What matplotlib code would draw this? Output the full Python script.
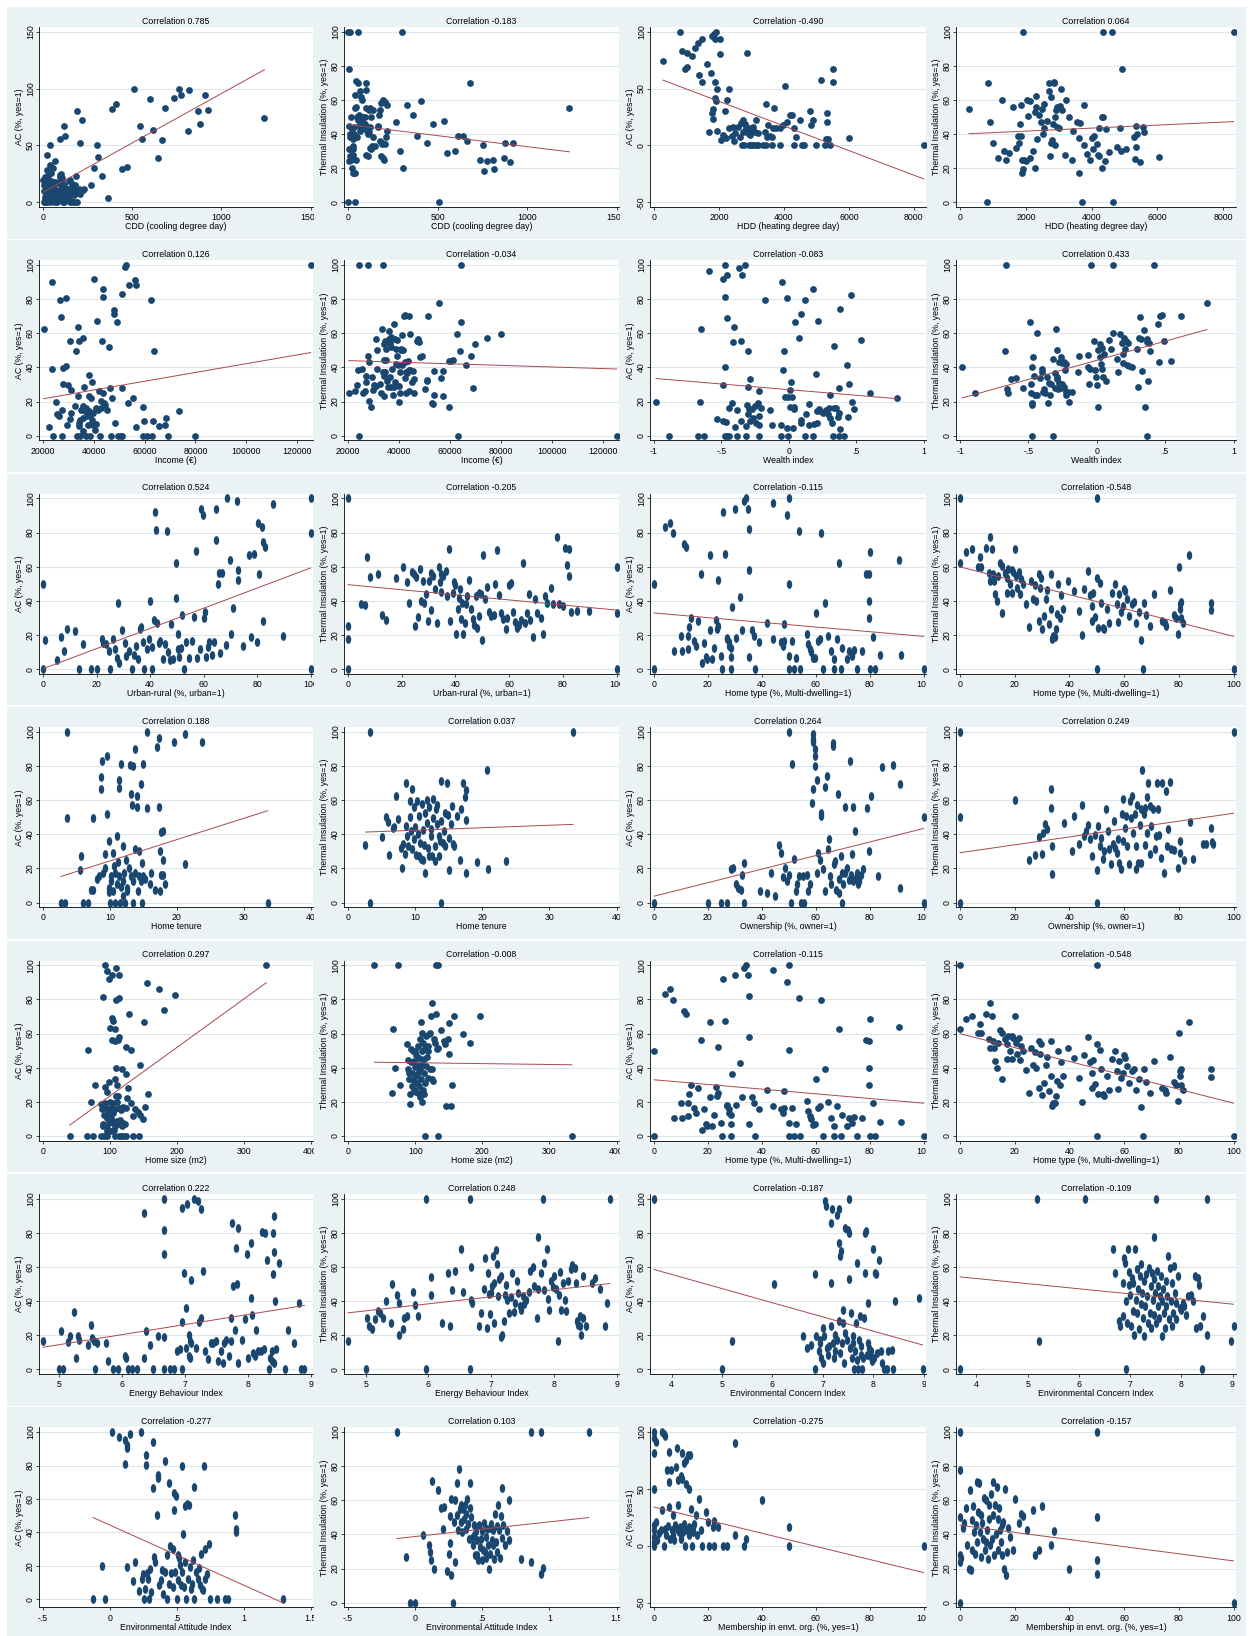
import numpy as np
import matplotlib
matplotlib.use('Agg')
import matplotlib.pyplot as plt
from matplotlib.markers import MarkerStyle
from matplotlib.transforms import Affine2D, Bbox, TransformedBbox

plt.rcParams['font.family'] = ['Liberation Sans', 'DejaVu Sans']

# ---------------- data ----------------
# each list: (x, y) per region; fits: (intercept, slope)

cdd_ac = [(1241, 74), (509, 100), (765, 100), (737, 92), (776, 94), (817, 99), (871, 80), (907, 94), (927, 81), (879, 69),
          (810, 63), (686, 83), (619, 64), (597, 91), (541, 67), (556, 56), (666, 55), (647, 39), (472, 31), (444, 29),
          (410, 86), (386, 82), (364, 4), (330, 23), (308, 40), (300, 50), (287, 30), (269, 15), (224, 11), (216, 72),
          (209, 52), (190, 80), (183, 23), (123, 58), (117, 67), (93, 56), (97, 24), (108, 20), (146, 19), (37, 50),
          (20, 42), (37, 33), (67, 36), (56, 30), (47, 26),
          (5, 0), (10, 0), (20, 0), (40, 0), (60, 0), (80, 0), (110, 0), (120, 0), (150, 0), (170, 0), (180, 0), (190, 0),
          (10, 5), (15, 7), (30, 10), (40, 15), (50, 18), (60, 12), (70, 8), (80, 5), (90, 10), (100, 12), (110, 8),
          (120, 15), (130, 10), (140, 5), (150, 20), (160, 8), (170, 12), (180, 15), (195, 8), (200, 12),
          (10, 22), (20, 28), (25, 18), (35, 20), (45, 15), (55, 10), (65, 5), (75, 3), (85, 17), (95, 22), (105, 15),
          (115, 6), (125, 9), (135, 12), (145, 3), (160, 16), (175, 6), (185, 9), (210, 7), (230, 12),
          (0, 20), (5, 15), (8, 10), (12, 2), (18, 12), (22, 16), (28, 24), (33, 5), (38, 8), (43, 19), (48, 3), (52, 6),
          (58, 14), (68, 18), (72, 11), (78, 2), (88, 7), (98, 4), (102, 25), (108, 21), (118, 10), (128, 3), (148, 12), (155, 1)]
cdd_ac_fit = (8.8, 0.0868)

cdd_ti = [(0, 100), (10, 100), (56, 100), (301, 100), (4, 78), (46, 71), (56, 70), (100, 70), (100, 66), (65, 65), (74, 62),
          (78, 60), (37, 63), (197, 60), (205, 59), (186, 58), (216, 57), (328, 57), (409, 59.6), (364, 51), (268, 47),
          (472, 46), (537, 47.5), (383, 39), (442, 35), (290, 30), (307, 20), (510, 0), (553, 29), (595, 30), (617, 38.6),
          (643, 39), (665, 36), (684, 70), (736, 25), (755, 33.5), (762, 18.6), (775, 24), (809, 25), (816, 19.6),
          (870, 26), (877, 35), (903, 23.5), (924, 34.5), (1236, 55),
          (5, 45), (10, 38), (12, 40), (15, 25), (8, 31), (20, 26), (25, 33), (30, 28), (18, 50), (22, 43), (28, 37),
          (35, 44), (40, 55), (45, 56), (50, 50), (55, 48), (60, 45), (65, 42), (70, 50), (75, 43), (80, 47), (85, 50),
          (90, 44), (95, 46), (100, 55), (105, 42), (110, 40), (115, 54), (120, 44), (125, 55), (130, 50), (135, 33),
          (140, 38), (150, 33), (165, 44), (175, 51), (180, 36), (185, 27), (190, 35), (195, 26), (200, 25), (210, 38),
          (220, 42), (5, 24), (10, 27), (15, 31), (20, 20), (25, 17), (35, 17), (40, 17), (30, 31), (45, 25), (50, 38),
          (100, 28), (110, 27), (120, 32), (130, 31), (170, 45), (205, 34), (0, 0), (40, 0), (35, 40), (60, 51),
          (95, 50), (115, 41), (140, 54), (180, 54), (190, 34)]
cdd_ti_fit = (45.5, -0.01287)

hdd_ac = [(278, 74.4), (814, 100), (856, 83), (938, 67), (1010, 69), (1000, 81), (1165, 79), (1268, 86), (1340, 90),
          (1485, 94), (1381, 62), (1485, 56), (1619, 72), (1753, 64), (1794, 96.5), (1856, 98), (1918, 100), (1866, 94),
          (2031, 94), (2041, 80), (1866, 56), (1876, 42), (1907, 39), (1938, 50), (2299, 50), (2258, 40), (2186, 30),
          (1784, 28.5), (1825, 32), (1825, 23.5), (1701, 11.5), (1938, 12.6), (2866, 81.5), (4041, 52), (3454, 36),
          (3701, 33), (5144, 57.6), (5515, 67), (5495, 56), (4794, 30.6), (4887, 22), (4825, 17.6), (5320, 28.2),
          (5330, 20.3), (5990, 6.8), (8299, 0), (4485, 22.4), (4175, 26.8), (4237, 26.7), (4082, 20.6), (3969, 17.9),
          (3660, 15), (3505, 18), (4381, 7.6), (4309, 15), (5289, 5.3), (5361, 5.3),
          (2711, 0), (2763, 0), (2918, 0), (2990, 0), (3041, 0), (3124, 0), (3196, 0), (3351, 0), (3454, 0), (3639, 0),
          (3887, 0), (4299, 0), (4557, 0), (4608, 0), (4979, 0), (5258, 0), (5433, 0),
          (2062, 4.7), (2144, 7.6), (2216, 6.2), (2392, 8.2), (2474, 3.5), (2505, 11), (2577, 16), (2649, 7.6),
          (2732, 12), (2753, 22), (2814, 18.5), (2835, 15), (2887, 10.6), (2938, 15.6), (2969, 9), (3021, 13.5),
          (3062, 16.5), (3144, 22), (3196, 10.6), (3113, 12), (3402, 12), (3474, 7), (3557, 8.2), (3619, 7.6),
          (3763, 15), (3866, 15), (2299, 15), (2423, 16.5), (2680, 19.4), (2113, 9)]
hdd_ac_fit = (60.4, -0.01082)

hdd_ti = [(269, 54.7), (838, 70), (807, 0), (921, 47), (993, 35), (1148, 26), (1272, 60), (1344, 30), (1396, 25),
          (1479, 29), (1603, 56), (1706, 31.6), (1748, 39), (1789, 35), (1820, 46), (1841, 57), (1851, 38.6), (1872, 25),
          (1872, 17), (1903, 19.4), (1923, 100), (1955, 25), (2017, 24), (2048, 60), (2068, 50.8), (2120, 59.6),
          (2130, 26), (2213, 30), (2275, 20), (2296, 56), (2275, 53), (2306, 62.5), (2337, 37), (2389, 51.4), (2471, 47),
          (2502, 54.6), (2523, 40), (2544, 43.3), (2564, 57.6), (2637, 47.6), (2689, 65.5), (2709, 70), (2751, 61.7),
          (2761, 34.5), (2740, 27.4), (2782, 36.7), (2813, 46), (2844, 70), (2865, 70.8), (2875, 33.3), (2885, 50.2),
          (2906, 54), (2937, 44.3), (2958, 55.7), (2999, 43.7), (3040, 56.5), (3092, 54), (3071, 66.7), (3206, 60),
          (3175, 28), (3309, 50.2), (3444, 41.8), (3402, 25), (3567, 46.9), (3651, 46.3), (3630, 37.6), (3609, 16.9),
          (3692, 0), (3754, 33.3), (3775, 57), (3857, 28.4), (3950, 25), (4002, 37.8), (4043, 31.4), (4085, 38.6),
          (4167, 34), (4188, 28), (4209, 26.9), (4219, 43.3), (4312, 50.2), (4343, 50.2), (4322, 20.2), (4415, 24),
          (4436, 42.7), (4353, 100), (4622, 100), (4643, 0), (4529, 29.4), (4777, 32.5), (4850, 43.3), (4891, 30),
          (4932, 78), (5036, 31.2), (5295, 38.2), (5346, 32.5), (5356, 44.7), (5377, 40.2), (5315, 25.3), (5481, 23.4),
          (5553, 44), (5594, 41), (6049, 26.7), (8314, 100)]
hdd_ti_fit = (39.96, 0.000882)

income_ac_k = [(20.3, 62.4), (22.4, 5), (23.4, 90), (23.7, 39), (24.1, 0), (25, 20), (25.5, 12.7), (26.3, 11.7),
               (26.6, 79.6), (27, 69.3), (27.4, 0), (27.6, 15.3), (27.9, 30.3), (27.9, 39.7), (28.9, 41.1), (28.9, 80.8),
               (29.5, 6.5), (29.8, 29.9), (30.6, 9.8), (30.9, 13.3), (31, 27), (30.8, 55.8), (32.7, 17.6), (33.1, 49.9),
               (33.2, 0), (33.8, 23.1), (33.8, 63.6), (34.2, 55.4), (34, 5.5), (34.2, 7.4), (34.5, 9.4), (34.7, 0),
               (34.9, 15.3), (35.6, 57.3), (35.6, 10.4), (35.8, 17.2), (35.8, 2.5), (36.3, 28.6), (36.6, 14.3), (36.8, 0),
               (37.1, 16.2), (37.4, 11.4), (37.8, 6.5), (38.1, 35.8), (38.1, 23.1), (38.3, 14.3), (38.5, 0), (38.7, 12.3),
               (39, 22.1), (39.4, 31.3), (39.4, 9.4), (39.6, 13.3), (40, 91.6), (39.8, 6.5), (40.4, 3.5), (40.7, 16.2),
               (40.9, 7), (41.3, 67.1), (41.7, 15.3), (41.9, 26), (42.3, 0), (42.7, 16.2), (42.8, 20.5), (43.2, 55.8),
               (43.6, 25), (43.8, 85.8), (43.8, 81.3), (44.2, 19.2), (44.5, 18.2), (45.4, 15.3), (45.8, 52.1), (46.2, 27.8),
               (46.6, 0), (47.1, 22.1), (47.8, 71.4), (48, 73.6), (48.4, 7.4), (49.2, 66.7), (49.5, 0), (50.8, 0),
               (51.1, 28), (51.3, 0), (51.1, 82.8), (52.4, 98.8), (52.8, 100), (53.5, 19.2), (53.7, 88.5), (55.6, 22.1),
               (56.3, 91), (56.7, 88.6), (56.8, 4.9), (59.2, 16.8), (59.2, 0), (59.7, 8.4), (60.9, 0), (62.5, 79.8),
               (62.9, 0), (63.5, 8.4), (63.8, 49.9), (65.7, 5.9), (68.1, 6.5), (68.3, 10.4), (69.1, 0), (73.6, 14.3),
               (80, 0), (125.4, 100)]
income_ac_fit = (16.5, 0.000257)

income_ti_k = [(20.3, 25), (22.6, 26.4), (23.7, 30), (24, 38.7), (24.2, 100), (24.5, 0), (25.5, 39), (25.8, 25),
               (26.8, 26), (27.1, 31.5), (27.2, 35.2), (27.7, 100), (27.9, 47), (28.1, 43), (28.1, 20.2), (29.1, 16.8),
               (29.4, 34.2), (29.7, 26.6), (30.1, 30), (30.8, 29), (31, 56.8), (31.2, 50), (31.4, 39), (32.4, 30.3),
               (33.1, 25), (33.3, 62.6), (33.6, 100), (34, 23.1), (33.9, 37.3), (34, 44.2), (34.1, 34.8), (34.2, 53.8),
               (34.6, 55.4), (34.7, 37.3), (35, 44.2), (35, 50.9), (35.4, 31.9), (35.6, 54.8), (35.6, 28.4), (35.9, 56.8),
               (36.2, 61.6), (36.4, 54.4), (36.6, 34.2), (36.7, 51.9), (36.8, 57.9), (37, 28.4), (37.3, 39.1), (37.6, 24),
               (37.9, 28.4), (38, 65.6), (38.4, 31.3), (38.5, 56.8), (38.7, 42.3), (38.9, 50.9), (39.2, 56.1), (39.3, 46.6),
               (39.6, 41.7), (39.9, 29.3), (40, 19.6), (40.3, 37.1), (40.3, 25), (40.7, 50.9), (40.9, 50.5), (41.2, 59.3),
               (41.3, 41.7), (41.5, 50.5), (41.8, 70), (42.2, 33.9), (42.5, 70.6), (42.5, 43.2), (42.7, 37.3), (42.7, 25),
               (43.1, 36.8), (43.4, 43.6), (43.8, 26.4), (43.9, 70), (44, 38.4), (44.2, 59.7), (44.4, 38.4), (45.3, 31.3),
               (45.4, 37.8), (45.8, 33.5), (46.1, 25), (47, 55.4), (47.4, 56.4), (47.9, 54.8), (48.3, 46), (49, 47),
               (50.3, 27.4), (51, 31.9), (51.2, 32.9), (51.4, 70), (53, 19.2), (53.3, 18.6), (53.7, 38.2), (53.9, 24.1),
               (55.7, 77.9), (56.7, 33.9), (57.3, 38.2), (57.3, 23.5), (59.6, 43.6), (59.8, 16.8), (60.3, 43.6),
               (61.3, 44.6), (62.9, 59.9), (63.2, 0), (63.8, 49.9), (64.2, 100), (64.2, 66.5), (66.2, 41.7), (68.5, 46.6),
               (68.9, 28), (69.8, 53.8), (74.4, 57.1), (80.1, 59.9), (125.5, 0)]
income_ti_fit = (44.95, -0.0000466)

wealth_ac = [(-0.985, 20), (-0.888, 0), (-0.673, 0), (-0.658, 20), (-0.652, 62.4), (-0.630, 0), (-0.591, 96.5),
             (-0.536, 10), (-0.491, 8.4), (-0.485, 91.6), (-0.476, 100), (-0.473, 81.2), (-0.485, 30), (-0.473, 40),
             (-0.467, 7.8), (-0.470, 0), (-0.461, 94.1), (-0.461, 69.1), (-0.455, 0), (-0.442, 0), (-0.445, 16),
             (-0.421, 19.4), (-0.406, 63.6), (-0.412, 55.2), (-0.4, 5.3), (-0.388, 0), (-0.382, 15.1), (-0.370, 98.4),
             (-0.355, 8.4), (-0.355, 55.8), (-0.345, 94.1), (-0.324, 100), (-0.321, 5.5), (-0.321, 0), (-0.303, 49.9),
             (-0.303, 28.6), (-0.309, 18), (-0.303, 12.5), (-0.294, 15.5), (-0.291, 33.1), (-0.285, 8.6), (-0.276, 15.9),
             (-0.264, 10.6), (-0.248, 17.4), (-0.242, 7.2), (-0.227, 19), (-0.224, 26.2), (-0.218, 11.7), (-0.224, 6.5),
             (-0.218, 0), (-0.206, 16), (-0.176, 79.6), (-0.136, 15.1), (-0.127, 6.5), (-0.061, 6.1), (-0.061, 0),
             (-0.048, 89.8), (-0.045, 38.7), (-0.039, 49.9), (-0.030, 22.5), (-0.012, 80.6), (-0.012, 4.7), (-0.006, 22.5),
             (-0.003, 0), (0.006, 27), (0.006, 16.8), (0.015, 31.5), (0.024, 22.9), (0.030, 4.3), (0.039, 16.8),
             (0.042, 15.5), (0.048, 66.7), (0.073, 57.5), (0.091, 7.2), (0.094, 9), (0.094, 71.6), (0.118, 79.8),
             (0.121, 0), (0.127, 12.7), (0.152, 18.6), (0.152, 6.5), (0.176, 85.9), (0.179, 0), (0.188, 6.7), (0.200, 36),
             (0.206, 14.7), (0.212, 7.4), (0.218, 67.3), (0.224, 15.9), (0.233, 14.7), (0.255, 13.3), (0.273, 14.9),
             (0.288, 12.7), (0.297, 16), (0.303, 10.6), (0.309, 23.7), (0.321, 7.4), (0.327, 0), (0.333, 52.4),
             (0.333, 16), (0.352, 16), (0.364, 10.8), (0.370, 13.1), (0.379, 74.2), (0.376, 28), (0.382, 3.7), (0.373, 0),
             (0.412, 0), (0.433, 41.7), (0.445, 30.3), (0.442, 10.8), (0.458, 82.6), (0.470, 19.6), (0.485, 15.5),
             (0.536, 56), (0.606, 24.9), (0.803, 22.3)]
wealth_ac_fit = (27.0, -6.6)

wealth_ti = [(-0.985, 40), (-0.888, 25), (-0.667, 100), (-0.673, 49.9), (-0.658, 27.2), (-0.652, 24.9), (-0.627, 33.3),
             (-0.591, 33.7), (-0.537, 28), (-0.491, 66.7), (-0.485, 30.1), (-0.479, 25.2), (-0.476, 40), (-0.473, 19.4),
             (-0.473, 18.2), (-0.476, 0), (-0.464, 46.2), (-0.461, 35), (-0.449, 23.9), (-0.440, 60.1), (-0.440, 23.9),
             (-0.416, 33.7), (-0.404, 39), (-0.401, 37.4), (-0.394, 25.8), (-0.388, 27.2), (-0.379, 24.9), (-0.364, 34.4),
             (-0.358, 19.4), (-0.349, 31.1), (-0.340, 24.1), (-0.334, 30.1), (-0.318, 0), (-0.318, 45.2), (-0.309, 27.8),
             (-0.303, 36.6), (-0.297, 62.4), (-0.288, 50.1), (-0.294, 34.2), (-0.288, 33.1), (-0.282, 27.2),
             (-0.279, 43.2), (-0.273, 31.1), (-0.264, 28.2), (-0.261, 46.4), (-0.258, 42.5), (-0.252, 30.1),
             (-0.243, 43.2), (-0.237, 28.6), (-0.234, 38.4), (-0.228, 25.6), (-0.222, 23.7), (-0.222, 41.9),
             (-0.213, 25.8), (-0.207, 20), (-0.182, 25.8), (-0.137, 37.4), (-0.131, 46.8), (-0.067, 40), (-0.061, 47.2),
             (-0.055, 30.1), (-0.052, 39), (-0.039, 100), (-0.024, 55.6), (-0.015, 38.4), (-0.006, 34.6), (0, 30),
             (0.009, 16.8), (0.009, 50.3), (0.021, 46.4), (0.024, 54), (0.030, 42.3), (0.039, 51.2), (0.039, 39),
             (0.045, 34.4), (0.052, 47.6), (0.070, 32.1), (0.091, 56.2), (0.106, 50.7), (0.115, 100), (0.121, 60.1),
             (0.145, 44.8), (0.152, 37.4), (0.172, 59.5), (0.182, 54.2), (0.188, 42.5), (0.191, 47.6), (0.2, 57.5),
             (0.206, 50.7), (0.212, 55.6), (0.218, 41.5), (0.227, 54.6), (0.236, 40.9), (0.258, 40), (0.297, 50.7),
             (0.303, 28.8), (0.312, 57.5), (0.318, 69.3), (0.324, 56.6), (0.333, 38), (0.342, 61.8), (0.351, 16.8),
             (0.364, 56.6), (0.370, 55.2), (0.373, 32.1), (0.364, 0), (0.379, 54.6), (0.388, 49.7), (0.418, 100),
             (0.451, 65.6), (0.457, 43.2), (0.464, 69.9), (0.479, 70.6), (0.488, 55.6), (0.539, 44), (0.615, 70.3),
             (0.803, 77.7)]
wealth_ti_fit = (44.2, 22.4)

urban_ac = [(0, 50), (0.9, 16.8), (0, 0), (5.3, 5.1), (6.8, 19), (7.7, 10.6), (8.9, 23.3), (11.8, 22.5), (13.3, 0),
            (14.8, 14.5), (17.8, 0), (20.1, 0), (21.9, 17.4), (22.5, 15.5), (23.7, 14.5), (24.6, 10.6), (25.1, 0),
            (26, 17.4), (26.9, 11.5), (27.5, 6.7), (28.1, 39), (28.4, 3.7), (29.6, 22.7), (30.5, 15.5), (31.1, 7.6),
            (32, 10.6), (33.4, 0), (34, 8), (34.9, 13.5), (35.5, 5.7), (36.1, 23.3), (36.7, 24.5), (37.3, 15.9),
            (37.9, 0), (38.8, 11.5), (39.6, 17.4), (40, 40), (40.8, 12.9), (40.8, 0), (41.4, 28.8), (41.7, 91.8),
            (42.3, 81.6), (42.6, 27.2), (43.2, 15.5), (43.8, 16.4), (44.7, 6.1), (45.6, 14.5), (46.4, 80.8), (46.7, 10.2),
            (47.3, 5.1), (47.9, 26.2), (48.5, 5.7), (49.7, 62.4), (49.7, 41.9), (50.3, 20.4), (50.3, 11.9), (50.9, 7.2),
            (51.5, 12.5), (52.1, 31.5), (52.7, 0), (53.3, 15.9), (54.4, 6.5), (55.6, 16.4), (56.5, 30.7), (57.1, 69.5),
            (57.7, 6.7), (58.6, 11.9), (59.2, 94.1), (59.8, 90.2), (60.1, 30.1), (60.4, 33.5), (60.9, 7), (61.5, 12.9),
            (62.1, 15.9), (63, 8), (63.9, 15.7), (64.5, 75.7), (64.5, 93.9), (65.4, 50.1), (65.7, 56.2), (66.3, 9.6),
            (66.9, 56.2), (68.3, 13.9), (68.9, 100), (69.8, 63.8), (70.4, 20.4), (71, 36), (72.5, 98.6), (72.8, 57.9),
            (72.8, 52.3), (74.9, 13.5), (76.9, 66.9), (77.8, 18.8), (79, 67.3), (79.9, 16), (80.2, 85.9), (80.8, 55.6),
            (81.7, 83.4), (82.2, 28.2), (82.2, 74.4), (83.1, 71.8), (85.8, 96.7), (89.6, 19.6), (100, 100), (100, 79.8),
            (100, 0)]
urban_ac_fit = (0.2, 0.591)

urban_ti = [(0, 100), (0, 25.2), (0, 17.4), (0, 0), (4.8, 38.4), (6.3, 37.8), (7.1, 65.6), (8, 54), (11.3, 55.6),
            (12.5, 31.7), (14.3, 28.8), (17.9, 53.4), (20.5, 60.1), (22, 51), (22.6, 39), (23.8, 57.1), (24.7, 55.6),
            (25, 25.2), (25.3, 54.2), (26.2, 30.7), (26.8, 58.5), (27.1, 40), (28, 51.7), (28.3, 39), (28.9, 43.8),
            (29.8, 28.2), (30.1, 51.7), (31, 56.2), (31, 34.6), (31.5, 54.6), (32.4, 46.8), (33.3, 27.2), (33.9, 59.7),
            (34.2, 51), (34.5, 55.6), (34.8, 45.2), (35.4, 54.6), (36.3, 57.5), (36.9, 42.9), (37.5, 70.3), (38.1, 28.2),
            (39, 44.8), (39.3, 51), (39.9, 49.5), (40.2, 20.4), (40.8, 35), (41.4, 41.9), (41.7, 46.8), (42, 29.2),
            (42.3, 39), (42.9, 20.4), (43.5, 27.2), (44, 38), (44.3, 42.9), (45.2, 52.3), (45.8, 35), (46.4, 29.2),
            (47, 25.6), (47.6, 42.9), (48.2, 24.3), (48.8, 31.1), (48.8, 44.4), (49.4, 43.8), (49.7, 16.8), (50.3, 66.7),
            (50.9, 40.9), (51.8, 48.3), (52.4, 33.5), (53.3, 31.1), (54.2, 31.5), (54.8, 49.7), (55.4, 69.9),
            (56.3, 43.4), (56.9, 32.7), (57.8, 29.2), (58.7, 23.3), (59.3, 30.1), (60.1, 49.5), (60.7, 50.3),
            (61.3, 33.7), (62.2, 27.8), (63.1, 24.3), (63.7, 25.6), (64.3, 28.8), (65.2, 62.4), (65.8, 27.2),
            (66.7, 33.1), (67.3, 43.8), (67.9, 28.8), (68.8, 19), (69.6, 40.9), (70.5, 32.7), (71.7, 30.1), (72.6, 20.4),
            (73.2, 42.9), (74.1, 39), (75.6, 47.4), (76.5, 38.4), (77.7, 77.7), (78.6, 38), (80.1, 37), (80.7, 71),
            (81.5, 61.1), (82.1, 70.3), (82.4, 54.6), (83, 33.5), (85.1, 34), (89.6, 34), (100, 60.1), (100, 33.1),
            (100, 0)]
urban_ti_fit = (49.5, -0.149)

hometype_ac = [(0, 50), (0, 0), (4.2, 83), (6, 85.9), (6.9, 79.6), (7.5, 10.6), (9.9, 19.4), (10.4, 10.6), (11.3, 73.2),
               (11.9, 71.4), (12.5, 11.5), (12.5, 19.4), (13.1, 24.7), (13.7, 30.1), (14.9, 16.4), (15.5, 13.5),
               (16.4, 28.2), (17.3, 56), (17.9, 3.7), (18.5, 15.5), (19.1, 7), (19.7, 6.1), (20.6, 66.9), (20.9, 22.7),
               (21.5, 6.1), (22.1, 12.3), (23, 28.6), (23.3, 23.3), (23.9, 52.3), (23.9, 25.2), (24.8, 7.6), (25.1, 0),
               (25.7, 91.8), (26.3, 67.3), (26.9, 18.4), (27.2, 17.4), (27.8, 13.5), (27.8, 15.9), (28.4, 12.1),
               (28.4, 7.2), (28.7, 0), (29, 36.2), (29.9, 94.1), (30.4, 18.4), (31.9, 42.5), (32.8, 22.9), (33.4, 98.6),
               (34, 100), (34.9, 94.1), (35.2, 82), (35.2, 57.9), (35.2, 7.2), (36.4, 22.7), (37, 19.4), (37.3, 0),
               (38.8, 15.7), (41.8, 27.2), (44.2, 97.1), (44.2, 17.4), (47.2, 15.7), (47.8, 13.5), (48.1, 26.2),
               (48.4, 16.4), (49.3, 90.2), (49.9, 100), (49.9, 50.1), (50.1, 7.6), (50.1, 0), (51.3, 16.4), (51.9, 0),
               (52.8, 6.7), (53.7, 80.8), (54.3, 0), (56.7, 20.4), (57.3, 14.5), (57.9, 11.5), (58.2, 10.2), (59.1, 6.3),
               (59.7, 6.7), (60, 33.1), (60.9, 16.4), (61.5, 17.4), (61.8, 79.6), (62.7, 0), (63.6, 39), (64.5, 19.6),
               (65.7, 10.6), (66.6, 5.7), (66.9, 0), (67.8, 17.4), (68.7, 62.4), (69.3, 0), (69.9, 12.5), (71.6, 5.7),
               (72.5, 10.6), (73.4, 7.6), (74.3, 11), (75.2, 0), (77, 10.6), (78.8, 56), (79.7, 55.6), (79.7, 40),
               (79.7, 30.1), (80, 68.7), (80.3, 0), (81.2, 19), (82.1, 0), (83.9, 8), (91.6, 8), (91, 63.8), (100, 0)]
hometype_ac_fit = (32.9, -0.137)

hometype_ti = [(0, 100), (0, 62.4), (2.1, 68.7), (4.5, 70.3), (6.6, 60.1), (7.2, 65.8), (7.5, 60.1), (9.6, 71.2),
               (10.4, 56.6), (11, 77.7), (11, 51.7), (11.6, 70.3), (11.9, 55.6), (12.5, 51.7), (12.8, 43.8), (13.4, 40),
               (14, 54.6), (14.6, 62), (15.2, 60.5), (15.5, 33.1), (16.4, 56.6), (17, 53.6), (17.3, 44.8), (17.6, 58.7),
               (18.2, 49.7), (18.8, 58.3), (19.1, 44.8), (19.4, 57.1), (20, 70.3), (20.6, 54.6), (20.9, 47.8),
               (21.5, 57.1), (21.8, 44.2), (22.4, 52.7), (23, 49.7), (24.2, 38.4), (25.1, 24.9), (26, 51.7), (26.6, 41.3),
               (27.5, 49.1), (27.8, 40), (28.7, 28.2), (29, 55.6), (29.3, 47.8), (29.6, 53.6), (30.1, 23.7), (30.7, 31.1),
               (31.3, 41.3), (31.9, 46.4), (32.5, 26.2), (33.1, 35), (33.4, 55.6), (33.7, 17.4), (34, 19.4), (34.6, 19),
               (34.9, 23.3), (35.5, 32.1), (35.8, 49.7), (36.4, 30.1), (37, 43.2), (37.6, 35.4), (39.4, 51.7),
               (41.5, 45.8), (43.3, 34), (44.5, 19.8), (45.4, 47.2), (46.9, 57.7), (47.5, 43.2), (48.1, 37), (48.4, 28.2),
               (48.7, 44.4), (49.3, 30.5), (49.9, 53.6), (49.9, 100), (49.9, 0), (50.4, 24.3), (51, 50.3), (51.6, 39),
               (52.2, 24.3), (52.8, 23.3), (53.7, 35), (54.6, 27.2), (55.5, 44.8), (56.7, 49.7), (57.3, 38), (57.9, 27.6),
               (58.2, 43.8), (58.8, 33.7), (59.4, 37), (60, 47.2), (60.3, 45.8), (61.2, 40.9), (61.8, 31.1), (62.7, 38),
               (63.6, 39.3), (64.5, 27.2), (65.4, 33.5), (66.3, 16.8), (66.9, 0), (67.2, 39), (68.1, 31.5), (69.3, 25.2),
               (71, 43.8), (74, 28.2), (74.9, 26.8), (75.2, 25.2), (76.7, 46.4), (78.2, 31.5), (79.1, 30.1), (79.7, 20.4),
               (80, 60.1), (80.3, 35), (80.6, 38), (80.9, 39.3), (80.9, 30.1), (81.5, 27.2), (83.6, 66.7), (91.6, 39),
               (91.9, 34.6), (100, 0)]
hometype_ti_fit = (59.9, -0.407)

tenure_ac = [(2.7, 0), (3.3, 0), (3.6, 100), (3.6, 49.7), (5.5, 19), (5.7, 27.2), (6, 0), (6.7, 0), (7.1, 7.2), (7.5, 7.6),
             (7.5, 49.7), (8.1, 13.9), (8.3, 15.5), (8.7, 73.8), (8.7, 66.7), (8.8, 83), (9, 17.4), (9.3, 20.4),
             (9.5, 85.9), (9.3, 28.2), (9.6, 51.7), (9.8, 36), (9.8, 8.6), (9.9, 6.1), (10, 0), (10.1, 15.5), (10.2, 12.5),
             (10.5, 6.7), (10.5, 28.8), (10.6, 21.3), (10.7, 17.4), (10.7, 0), (11, 10.6), (11.1, 39), (11.2, 23.7),
             (11.3, 71.6), (11.4, 67.1), (11.4, 15.5), (11.5, 0), (11.7, 9.2), (11.7, 81), (11.9, 12.5), (11.9, 4.1),
             (12, 33.1), (12.1, 17.4), (12.3, 0), (12.4, 25.2), (12.5, 8.6), (12.6, 6.7), (12.9, 20.4), (13, 80.4),
             (13.1, 15.5), (13.2, 63.8), (13.3, 56.9), (13.5, 12.5), (13.5, 80), (13.5, 0), (13.7, 17.4), (13.8, 89.8),
             (13.8, 31.5), (14, 62.4), (14.1, 56.2), (14.2, 6.7), (14.3, 15.5), (14.4, 30.1), (14.6, 69.3), (14.6, 12.5),
             (14.8, 23.3), (14.9, 81.4), (14.8, 0), (15, 15.5), (15.2, 13.5), (15.5, 100), (15.6, 55.6), (16, 10.6),
             (16.2, 17.4), (16.7, 7.6), (17.1, 91.4), (17.3, 96.7), (17.4, 56.2), (17.5, 30.1), (17.5, 6.7), (17.6, 16.4),
             (17.6, 41.1), (17.9, 42), (17.9, 24.9), (18, 15.9), (18.2, 10.6), (19.6, 94.1), (21.2, 22.5), (21.3, 98.6),
             (23.7, 94.1), (33.6, 0)]
tenure_ac_fit = (11.94, 1.246)

tenure_ti = [(2.6, 33.7), (3.2, 100), (3.2, 0), (5, 38.4), (5.7, 50.1), (6, 47.2), (6.1, 27.6), (6.7, 43.8), (6.9, 44.4),
             (7.1, 62.4), (7.5, 49.1), (7.9, 32.1), (8.1, 20), (8.2, 34.4), (8.5, 28.2), (8.6, 69.9), (8.7, 44.8),
             (8.8, 39), (8.9, 33.1), (9.2, 50.3), (9.3, 59.5), (9.4, 41.9), (9.5, 66.7), (9.6, 31.5), (9.8, 56),
             (9.9, 37.4), (10, 44.2), (10.1, 27.6), (10.2, 59.5), (10.4, 40), (10.5, 27.2), (10.6, 50.7), (10.7, 34.6),
             (10.8, 25.6), (11, 57.5), (11.1, 42.5), (11.2, 25.2), (11.3, 33.7), (11.4, 52.3), (11.5, 17.4), (11.7, 46.8),
             (11.8, 59.9), (11.9, 32.1), (12, 27.2), (12.1, 56.2), (12.3, 43.2), (12.4, 39), (12.5, 27.2), (12.6, 60.9),
             (12.7, 49.7), (12.9, 33.1), (13, 24.3), (13.1, 54.6), (13.2, 45.8), (13.3, 57.1), (13.5, 39), (13.6, 27.2),
             (13.7, 36), (13.8, 0), (13.9, 48), (13.9, 71.2), (14.2, 35), (14.3, 41.9), (14.4, 52.7), (14.5, 33.1),
             (14.8, 70.3), (14.9, 51), (15, 38), (15.1, 19), (15.4, 45.8), (15.5, 56.6), (15.6, 34.2), (15.8, 33.1),
             (16.2, 50.7), (16.7, 25.2), (16.9, 55), (17.1, 70.3), (17.4, 62), (17.5, 65.9), (17.5, 17.4), (17.6, 48.6),
             (19.2, 23.7), (20.7, 77.7), (20.9, 19.4), (23.6, 24.1), (33.5, 100)]
tenure_ti_fit = (40.9, 0.146)

owner_ac = [(0, 0), (20, 0), (24.8, 0), (26.9, 0), (28.4, 19.4), (29.3, 20), (30.4, 10.6), (31.3, 8.6), (32.2, 7.6),
            (32.8, 16.4), (33.4, 0), (33.4, 22.9), (39.4, 6.7), (41.8, 5.7), (43.3, 17.4), (44.8, 3.7), (46.3, 33.5),
            (47.2, 28.8), (47.8, 14.9), (48.7, 20.4), (49.3, 12.5), (49.9, 100), (50.1, 15.9), (50.7, 0), (51.3, 81.4),
            (51.9, 25.6), (52.5, 6.7), (53.1, 10.6), (53.7, 15.7), (54.6, 0), (55.2, 15.5), (55.8, 0), (56.7, 15.9),
            (57.3, 6.7), (57.9, 10.6), (58.5, 58.5), (58.8, 66.3), (59.1, 98.6), (59.1, 95.7), (59.1, 94.1), (59.7, 89.8),
            (59.7, 85.9), (59.7, 80), (60.3, 71.8), (60.3, 17.4), (60.9, 29.2), (61.5, 25.2), (62.1, 52.7), (62.1, 50.7),
            (62.7, 19.4), (63.3, 6.7), (63.6, 67.5), (64.2, 74.2), (64.5, 31.1), (64.8, 37), (65.1, 15.5), (65.7, 10.6),
            (66.3, 93.7), (66.3, 91.8), (66.6, 22.3), (67.2, 24.3), (67.5, 7.6), (68.1, 63.8), (68.7, 13.5), (68.7, 5.7),
            (69.3, 27.2), (69.6, 17.4), (69.9, 0), (70.1, 10.6), (70.7, 17.4), (71, 56.2), (71.6, 20.4), (72.2, 13.1),
            (72.8, 83), (73.1, 16.4), (73.4, 28.2), (73.7, 56.2), (74, 12.5), (74.6, 41.9), (74.9, 14.5), (75.2, 17.4),
            (75.8, 10.6), (76.1, 12.5), (76.7, 15.9), (77.6, 19.4), (79.1, 55.6), (79.7, 30.1), (80.6, 62.4), (83, 15.5),
            (84.5, 79.6), (88.7, 80.6), (91.3, 69.3), (91.3, 8.6), (100, 50.1), (100, 0)]
owner_ac_fit = (3.7, 0.397)

owner_ti = [(0, 100), (0, 50.1), (0, 0), (20, 60.1), (25.1, 24.9), (27.5, 27.6), (29, 38.4), (29.9, 28.2), (30.4, 40.9),
            (31, 45.8), (31.9, 43.2), (33.4, 66.7), (33.4, 55.6), (33.7, 33.1), (33.7, 16.8), (37.9, 46.4), (40.9, 30.1),
            (41.8, 50.7), (43.3, 34.4), (44.5, 57.1), (45.4, 39), (46, 41.9), (46.9, 45.2), (47.5, 37), (48.4, 27.2),
            (49.3, 39.3), (49.9, 18.8), (49.9, 0), (50.4, 44.8), (51, 33.1), (51.6, 38), (52.2, 25.6), (52.8, 30.1),
            (53.4, 54.6), (54, 41.9), (54.6, 31.1), (55.2, 22.3), (55.8, 34), (56.4, 47.8), (56.7, 32.1), (57.3, 29.2),
            (57.6, 37), (58.2, 23.3), (58.8, 19.4), (59.1, 51.7), (59.4, 60.5), (59.7, 36), (60.3, 43.8), (60.6, 50.7),
            (61.2, 33.1), (61.8, 22.3), (62.1, 59.5), (62.4, 49.7), (63, 62.4), (63.3, 40.9), (63.9, 51.7), (64.2, 19.4),
            (64.5, 33.1), (64.8, 57.1), (65.1, 23.3), (65.7, 45.2), (66, 55), (66.3, 23.3), (66.6, 77.7), (67.2, 51.7),
            (67.5, 33.5), (67.8, 55.6), (68.4, 40.9), (68.4, 62), (68.7, 70.3), (69.3, 56.6), (69.6, 28.2), (69.9, 44.8),
            (70.7, 54.6), (71.3, 31.1), (71.6, 39), (71.9, 70.3), (72.2, 54.6), (72.8, 39.3), (73.4, 26.2), (74, 70.3),
            (74.6, 17.4), (75.2, 65.4), (75.8, 33.1), (76.1, 42.9), (76.7, 70.6), (77, 31.5), (78.2, 30.7), (79.7, 20.4),
            (80.3, 36), (80.6, 29.2), (81.8, 24.9), (83.9, 47.2), (85.1, 25.6), (88.7, 34.4), (89.9, 34.4), (91.6, 43.4),
            (92.2, 35.4), (92.5, 34.4), (100, 100)]
owner_ti_fit = (29.2, 0.231)

size_ac = [(39.8, 0), (66.5, 0), (74.8, 0), (87.3, 0), (91.4, 0), (95, 0), (108.3, 0), (113, 0), (116, 0), (120, 0),
           (124.7, 0), (134.8, 0), (143.7, 0), (67.7, 50.1), (71.3, 19.8), (77.2, 30.1), (89.1, 81.4), (92.6, 100),
           (95, 96.5), (99.2, 91.8), (103.3, 94.1), (109.3, 98.4), (114, 94.1), (109.3, 79.6), (114, 80.8), (103.3, 69.3),
           (104.5, 67.3), (99.8, 63.4), (108.1, 62.4), (103.3, 56.2), (106.9, 55.6), (112.8, 56.2), (114, 57.7),
           (128.3, 71.4), (150.9, 66.7), (155, 89.8), (172.8, 85.9), (180.5, 74), (196.6, 82.8), (333.7, 100),
           (124.7, 52), (131.8, 50.1), (144.3, 41.7), (109.3, 40), (118.2, 39), (108.1, 33.5), (99.2, 31.5), (92.6, 28.6),
           (95, 25.8), (110.5, 30.1), (124.7, 36), (157.4, 24.7), (153.2, 16.8), (149.6, 10.2), (144.9, 12.5),
           (141.4, 14.1), (137.8, 15.5), (134.8, 11.5), (131.8, 19.4), (125.9, 22.3), (127.1, 28.2), (124.1, 16.4),
           (120, 16.8), (117, 14.9), (114, 16.4), (112.8, 23.3), (109.3, 23.3), (111, 19.8), (106.9, 15.9), (105.1, 19.4),
           (103.9, 13.5), (102.2, 10.6), (101, 16.4), (99.8, 19.8), (98.6, 7.6), (97.4, 13.5), (96.3, 10.6), (95, 4.7),
           (93.8, 16.4), (92.6, 19.4), (91.4, 12.5), (90.3, 6.7), (89.1, 5.7), (87.9, 15.9), (87.3, 18.8), (105.7, 7.6),
           (108.1, 5.7), (110.5, 8.6), (112.8, 6.7), (115.2, 9.6), (117.6, 6.1), (120, 7.6), (122.3, 6.7), (101, 3.1),
           (103.3, 8.6), (96.3, 2.7), (105.7, 3.7)]
size_ac_fit = (-5.0, 0.284)

size_ti = [(39.3, 100), (73.8, 100), (131.5, 100), (134.5, 100), (114.3, 0), (134.5, 0), (333.3, 0), (66.7, 62.4),
           (69.6, 40), (76.8, 30.1), (65.5, 24.9), (88.1, 53.6), (89.3, 44.2), (89.9, 39.3), (90.5, 37), (91.1, 33.1),
           (92.3, 24.3), (92.3, 18.8), (93.5, 51), (94.1, 43.4), (94.6, 29.2), (95.8, 37), (96.4, 49.7), (97, 32.5),
           (98.2, 43.8), (98.8, 27.2), (99.4, 40.4), (100, 49.7), (100.6, 35), (101.2, 25.6), (101.8, 47.2),
           (102.4, 31.1), (103, 41.3), (103.6, 24.9), (104.2, 37), (104.8, 52.7), (105.4, 29.2), (106, 45.8),
           (106.5, 22.9), (107.1, 39), (107.7, 56.6), (108.3, 66.7), (108.9, 33.5), (109.5, 49.7), (110.1, 60.1),
           (110.1, 19.8), (110.7, 42.3), (111.3, 27.2), (111.9, 54.6), (112.5, 37), (113.1, 24.3), (113.7, 45.2),
           (114.3, 51.7), (114.9, 31.1), (116.1, 58.5), (116.7, 40.9), (117.3, 46.4), (118.5, 52.7), (119, 34),
           (119.6, 49.7), (120.8, 59.5), (122, 60.5), (122.6, 39.3), (123.2, 70.3), (124.4, 33.1), (125, 77.7),
           (125, 39), (126.2, 32.1), (128, 56.6), (129.8, 54.6), (131, 71.2), (132.1, 50.7), (133.9, 51.7), (138.7, 62),
           (142.9, 55.6), (144.6, 53.6), (145.8, 17.4), (148.8, 56.6), (150, 65.9), (150.6, 47.8), (153.6, 17.4),
           (154.8, 30.1), (157.7, 70.3), (171.4, 59.5), (181.5, 54.6), (196.4, 70.3)]
size_ti_fit = (43.4, -0.0051)

energy_ac = [(4.74, 16.8), (5, 0), (5.06, 0), (5.03, 22.5), (5.13, 15.9), (5.17, 19.4), (5.23, 33.7), (5.26, 6.7),
             (5.29, 19.4), (5.32, 17.4), (5.45, 14.5), (5.51, 26.2), (5.52, 18.4), (5.55, 16.4), (5.57, 0), (5.6, 15.5),
             (5.74, 15.5), (5.77, 5.1), (5.86, 0), (5.94, 0), (6.05, 7.6), (6.06, 6.7), (6.09, 0), (6.15, 0), (6.24, 0),
             (6.34, 6.7), (6.34, 91.8), (6.38, 22.7), (6.44, 14.5), (6.49, 0), (6.57, 19.4), (6.66, 100), (6.66, 81.6),
             (6.66, 67.3), (6.66, 19), (6.67, 0), (6.76, 0), (6.83, 0), (6.88, 10.6), (6.92, 11.9), (6.96, 94.5),
             (6.96, 0), (6.96, 27.8), (6.98, 56.2), (7.01, 36), (7.01, 12.5), (7.03, 97.1), (7.06, 20.4), (7.07, 7.6),
             (7.08, 6.7), (7.08, 16.4), (7.1, 15.5), (7.1, 52.3), (7.15, 100), (7.17, 12.5), (7.2, 98.6), (7.23, 27.6),
             (7.25, 93.7), (7.25, 30.1), (7.28, 57.9), (7.32, 10.6), (7.37, 6.1), (7.41, 15.5), (7.45, 15.5), (7.5, 16.4),
             (7.53, 4.7), (7.57, 10.6), (7.6, 3.7), (7.62, 15.5), (7.66, 17.4), (7.7, 7.6), (7.73, 16.4), (7.73, 30.1),
             (7.75, 85.5), (7.77, 49.1), (7.79, 23.3), (7.82, 71.2), (7.83, 50.1), (7.85, 83), (7.85, 3.7), (7.91, 17.4),
             (7.95, 29.2), (7.98, 67.3), (8, 6.7), (8.05, 74.2), (8.05, 41.9), (8.07, 32.1), (8.08, 9.6), (8.11, 8),
             (8.13, 23.3), (8.16, 10.6), (8.21, 10.6), (8.23, 80.4), (8.26, 11.9), (8.27, 80), (8.3, 63.8), (8.34, 0),
             (8.36, 6.7), (8.38, 10.6), (8.39, 5.1), (8.4, 55.6), (8.41, 68.9), (8.4, 80), (8.41, 3.7), (8.42, 90),
             (8.44, 40), (8.45, 11.9), (8.5, 62.4), (8.59, 0), (8.64, 23.3), (8.74, 15.5), (8.82, 39), (8.85, 0), (8.9, 0)]
energy_ac_fit = (-15.0, 5.89)

energy_ti = [(4.72, 16.8), (5, 0), (5.03, 30.1), (5.06, 25.2), (5.11, 23.7), (5.15, 29.2), (5.2, 34), (5.23, 33.1),
             (5.28, 30.1), (5.32, 40), (5.41, 27.2), (5.42, 50.1), (5.5, 43.8), (5.54, 38.6), (5.54, 20), (5.59, 23.7),
             (5.61, 30.1), (5.66, 31.5), (5.76, 45.2), (5.79, 37.6), (5.84, 31.5), (5.96, 100), (5.96, 0), (6.04, 43.8),
             (6.05, 54.2), (6.22, 27.2), (6.32, 56.2), (6.35, 25.2), (6.37, 46.4), (6.42, 57.5), (6.52, 70.6),
             (6.55, 45.2), (6.66, 100), (6.66, 0), (6.68, 60.1), (6.68, 40.9), (6.69, 39), (6.8, 25.2), (6.84, 33.1),
             (6.88, 46.8), (6.9, 65.4), (6.94, 24.3), (6.95, 56.6), (6.97, 44.4), (6.99, 32.7), (7, 44.8), (7.01, 48.8),
             (7.03, 66.7), (7.04, 50.7), (7.05, 27.2), (7.08, 69.9), (7.09, 62), (7.11, 42.9), (7.13, 52.7), (7.15, 19),
             (7.16, 54.6), (7.17, 20.4), (7.2, 28.2), (7.22, 43.8), (7.23, 49.7), (7.26, 40.9), (7.28, 33.1),
             (7.31, 42.5), (7.33, 56.6), (7.36, 33.5), (7.38, 39), (7.41, 51.7), (7.43, 44.8), (7.46, 37), (7.48, 35),
             (7.51, 42.9), (7.53, 38), (7.56, 40.9), (7.6, 45.2), (7.62, 57.5), (7.66, 60.1), (7.69, 49.1), (7.73, 30.1),
             (7.74, 77.7), (7.75, 47.2), (7.79, 56.2), (7.82, 100), (7.84, 62.4), (7.85, 46.4), (7.89, 70.3),
             (7.9, 41.3), (7.93, 34.6), (7.96, 51.7), (7.98, 48.3), (8.01, 54.6), (8.03, 46.8), (8.06, 16.8),
             (8.08, 43.8), (8.1, 57.1), (8.12, 34.6), (8.14, 50.3), (8.17, 40.9), (8.2, 34), (8.23, 51.7), (8.27, 58.5),
             (8.29, 60.9), (8.33, 59.5), (8.36, 50.7), (8.37, 28.2), (8.38, 26.2), (8.41, 25.2), (8.42, 31.5),
             (8.43, 20.4), (8.46, 30.1), (8.47, 54.6), (8.51, 25.2), (8.61, 50.3), (8.65, 53.6), (8.74, 47.2),
             (8.81, 25.2), (8.84, 39), (8.89, 100)]
energy_ti_fit = (13.65, 4.12)

concern_ac = [(3.65, 100), (5, 0), (5.2, 16.8), (6.04, 50.1), (6.6, 19.4), (6.68, 12.5), (6.76, 14.5), (6.84, 56),
              (6.84, 0), (6.87, 19.4), (6.92, 10.6), (6.94, 15.5), (6.95, 17.4), (6.97, 6.7), (7, 3.7), (7, 24.3),
              (7.03, 19.4), (7.05, 98.6), (7.06, 95.7), (7.08, 12.5), (7.1, 8.6), (7.13, 13.5), (7.16, 25.2), (7.16, 50.7),
              (7.17, 85.9), (7.19, 94.1), (7.21, 15.5), (7.22, 6.7), (7.24, 20.4), (7.25, 10.6), (7.29, 90.2),
              (7.29, 17.4), (7.32, 73.8), (7.32, 28.2), (7.33, 94.1), (7.35, 9.6), (7.35, 66.7), (7.37, 69.3),
              (7.38, 15.5), (7.4, 27.2), (7.41, 35), (7.43, 3.7), (7.44, 83), (7.44, 21.3), (7.48, 17.4), (7.49, 81.4),
              (7.51, 100), (7.51, 52.7), (7.52, 80), (7.54, 12.5), (7.56, 33.1), (7.57, 6.7), (7.59, 19.4), (7.6, 15.5),
              (7.62, 0), (7.63, 10.6), (7.65, 27.2), (7.67, 5.7), (7.68, 62.4), (7.7, 0), (7.71, 17.4), (7.73, 31.1),
              (7.75, 8.6), (7.76, 13.5), (7.78, 0), (7.79, 6.7), (7.81, 30.1), (7.83, 56.6), (7.84, 80), (7.86, 81),
              (7.87, 8.6), (7.89, 39), (7.9, 15.5), (7.92, 12.5), (7.94, 7.6), (7.95, 10.6), (7.98, 5.1), (8, 70.3),
              (8.01, 6.7), (8.03, 56.6), (8.05, 55.6), (8.08, 9.6), (8.11, 63.8), (8.16, 10.6), (8.17, 3.7), (8.21, 0),
              (8.27, 0), (8.3, 10.6), (8.37, 11.5), (8.4, 0), (8.43, 40), (8.9, 41.9), (8.98, 0)]
concern_ac_fit = (88.8, -8.3)

concern_ti = [(3.68, 0), (5.19, 100), (5.23, 16.8), (6.11, 100), (7.51, 100), (8.5, 100), (6.66, 70.6), (6.71, 56.2),
              (6.79, 28.2), (6.81, 25.2), (6.86, 31.5), (6.87, 50.3), (6.89, 65.4), (6.9, 62.4), (6.92, 40), (6.92, 0),
              (6.94, 27.2), (6.95, 70.3), (6.97, 49.7), (6.98, 57.1), (7, 43.8), (7.02, 25.2), (7.03, 53.6), (7.05, 34),
              (7.06, 50.7), (7.08, 20.4), (7.1, 70.3), (7.11, 40.9), (7.13, 58.5), (7.14, 33.1), (7.16, 47.2),
              (7.17, 23.7), (7.19, 54.6), (7.21, 38), (7.22, 62), (7.24, 44.8), (7.25, 30.1), (7.27, 51.7), (7.28, 19.4),
              (7.3, 37), (7.32, 55.6), (7.33, 42.9), (7.35, 27.2), (7.36, 59.5), (7.38, 33.1), (7.4, 48.8), (7.41, 24.3),
              (7.43, 56.6), (7.44, 40.9), (7.46, 77.7), (7.46, 32.1), (7.47, 52.7), (7.49, 44.8), (7.51, 27.2),
              (7.52, 57.5), (7.54, 37), (7.55, 48.8), (7.57, 30.1), (7.59, 42.9), (7.6, 54.6), (7.62, 19.4), (7.63, 40),
              (7.65, 46.8), (7.67, 33.1), (7.68, 24.3), (7.7, 51.7), (7.71, 37), (7.73, 42.9), (7.74, 66.3), (7.76, 29.2),
              (7.78, 59.5), (7.79, 40), (7.81, 25.2), (7.82, 50.7), (7.84, 33.1), (7.85, 60.5), (7.87, 44.8), (7.89, 29.2),
              (7.9, 39), (7.93, 54.6), (7.97, 36), (8, 35), (8.03, 39), (8.06, 37), (8.1, 32.1), (8.13, 42.9), (8.18, 43.8),
              (8.22, 40), (8.26, 54.6), (8.29, 24.3), (8.32, 53.6), (8.34, 49.7), (8.37, 25.2), (8.4, 0), (8.42, 31.1),
              (8.51, 20.4), (8.98, 16.8), (9.02, 25.2)]
concern_ti_fit = (65.2, -3.0)

attitude_ac = [(-0.125, 0), (-0.06, 20), (-0.036, 0), (0.012, 100), (0.071, 97), (0.113, 81.2), (0.113, 95.4),
               (0.125, 92.2), (0.125, 90.2), (0.149, 98.6), (0.131, 19.4), (0.173, 10.8), (0.19, 22.4), (0.22, 4.8),
               (0.232, 100), (0.238, 12.4), (0.244, 15.4), (0.256, 0), (0.262, 6), (0.268, 86.2), (0.268, 80.6),
               (0.274, 16), (0.286, 12.4), (0.292, 0), (0.298, 18), (0.304, 4.4), (0.321, 94.2), (0.321, 66.7),
               (0.333, 25.3), (0.339, 22.4), (0.351, 50.3), (0.357, 74.3), (0.363, 72.3), (0.369, 8.4), (0.381, 11.4),
               (0.393, 17.4), (0.399, 3.4), (0.411, 83), (0.411, 16.4), (0.423, 26.3), (0.429, 0), (0.44, 69.7),
               (0.44, 9.4), (0.452, 31.9), (0.458, 15.8), (0.47, 7.4), (0.47, 30.3), (0.482, 63.3), (0.482, 53.3),
               (0.488, 16.4), (0.494, 61.9), (0.5, 0), (0.506, 26.3), (0.512, 11.4), (0.518, 24.8), (0.524, 20.4),
               (0.53, 8.4), (0.536, 16.4), (0.542, 80), (0.548, 38.8), (0.554, 7.4), (0.56, 55.9), (0.565, 22.4),
               (0.571, 0), (0.577, 57.3), (0.583, 12.4), (0.589, 56.3), (0.595, 19.4), (0.607, 6.4), (0.613, 9.4),
               (0.619, 23.4), (0.625, 67.3), (0.631, 0), (0.643, 16.4), (0.655, 12.4), (0.667, 18.8), (0.673, 8.4),
               (0.679, 27.3), (0.685, 6.4), (0.696, 5.4), (0.702, 79.6), (0.708, 30.3), (0.714, 12), (0.726, 15.4),
               (0.738, 33.3), (0.75, 0), (0.798, 0), (0.863, 0), (0.881, 0), (0.935, 50.3), (0.94, 42.3), (0.946, 40.3),
               (1.292, 0)]
attitude_ac_fit = (44.4, -35.9)

attitude_ti = [(-0.137, 100), (-0.071, 26.8), (-0.036, 0), (0, 0), (0.06, 39.5), (0.1, 33.7), (0.113, 29.7),
               (0.119, 24.9), (0.125, 71.2), (0.137, 19.6), (0.167, 65.9), (0.19, 55.6), (0.208, 43.1), (0.214, 56.2),
               (0.238, 18.6), (0.25, 28.8), (0.256, 34.8), (0.262, 50.9), (0.268, 61), (0.268, 16.4), (0.28, 0),
               (0.286, 47.4), (0.298, 23.9), (0.298, 60.1), (0.31, 51.3), (0.315, 70.4), (0.321, 42.5), (0.327, 78.3),
               (0.333, 55.2), (0.339, 47.4), (0.345, 57.5), (0.351, 41.5), (0.357, 54.8), (0.363, 49.3), (0.369, 57.1),
               (0.375, 52.2), (0.381, 43.1), (0.387, 61), (0.393, 46.4), (0.399, 37.6), (0.405, 55.6), (0.411, 69.9),
               (0.417, 50.3), (0.423, 38), (0.429, 33.7), (0.435, 45.4), (0.44, 39.5), (0.446, 28.2), (0.452, 41.9),
               (0.458, 27.8), (0.464, 36.6), (0.47, 24.9), (0.476, 45.4), (0.482, 32.7), (0.488, 37.6), (0.494, 24.9),
               (0.5, 41.9), (0.506, 30.7), (0.512, 47), (0.518, 29.7), (0.524, 38.6), (0.53, 26.2), (0.536, 43.1),
               (0.542, 33.7), (0.548, 20), (0.554, 43.5), (0.56, 28.8), (0.565, 46.2), (0.571, 36.6), (0.577, 33.7),
               (0.583, 42.5), (0.589, 25.8), (0.595, 51.7), (0.601, 35.6), (0.607, 45), (0.613, 29.7), (0.619, 57.1),
               (0.625, 42.5), (0.631, 26.2), (0.637, 50.9), (0.643, 67.3), (0.649, 38), (0.655, 45.4), (0.667, 33.7),
               (0.685, 41.9), (0.696, 60.1), (0.702, 36.6), (0.786, 25.4), (0.863, 23.9), (0.863, 100), (0.935, 100),
               (0.94, 17), (0.952, 20.4), (1.292, 100)]
attitude_ti_fit = (38.8, 8.6)

member_ac = [(0, 100), (0, 94.4), (0.6, 91.5), (0, 81.2), (0, 50.3), (0, 17.9), (0, 13.5), (0, 7.6), (0, 3.2), (0, 0),
             (0.6, 20.9), (1.2, 4.7), (1.8, 11.5), (2.4, 13.5), (3, 100), (3, 31.2), (3.6, 97.9), (3.6, 0), (3.9, 15),
             (4.2, 96.5), (4.5, 9.1), (4.8, 67.1), (5.1, 17.4), (5.4, 82.6), (5.4, 56.2), (5.7, 34.1), (6, 6.2),
             (6.3, 66.5), (6.6, 13.5), (6.9, 26.8), (7.2, 9.1), (7.5, 4.7), (7.8, 18.5), (8.1, 69.4), (8.4, 14.4),
             (8.7, 86.2), (9, 35.6), (9, 57.6), (9.3, 12.6), (9.6, 16.5), (9.9, 61.2), (10.1, 6.2), (10.4, 81.2),
             (10.4, 59.1), (10.7, 12.1), (11, 19.4), (11.3, 72.4), (11.6, 0), (11.9, 54.7), (11.9, 75.3), (12.2, 13.5),
             (12.5, 79.7), (12.8, 9.1), (13.1, 50.3), (13.1, 16.5), (13.4, 79.7), (13.7, 32.6), (14, 0), (14.3, 12.6),
             (14.6, 16.5), (14.9, 19.4), (15.5, 26.8), (16.1, 9.1), (16.7, 41.5), (17.3, 13.5), (17.9, 0), (19.4, 29.7),
             (20, 20.9), (20.3, 0), (21.8, 16.5), (22.4, 0), (22.4, 21.5), (23.9, 16.5), (25.4, 0), (26.9, 0),
             (29.9, 90), (29.9, 9.7), (33.4, 0), (34, 5.6), (40, 40), (50.1, 16.5), (50.1, 0), (100, 0)]
member_ac_fit = (34.1, -0.576)

member_ti = [(0, 100), (0, 77.7), (0, 0), (0, 50.3), (0, 27.8), (0, 23.9), (0.3, 26.2), (0.9, 43.6), (1.5, 46.6),
             (2.1, 55.4), (2.7, 33.9), (3.3, 20), (3.6, 65.9), (3.9, 19), (4.2, 48.5), (4.5, 30.9), (4.8, 56.4),
             (5.1, 41.5), (5.4, 28.8), (5.7, 45.8), (6, 70.8), (6.3, 35.6), (6.6, 53.4), (6.9, 70.4), (7.2, 41.5),
             (7.5, 26.8), (7.8, 51.3), (8.1, 46.6), (8.4, 37.6), (8.7, 61.1), (9, 30.9), (9.3, 60.1), (9.6, 35.6),
             (9.9, 42.5), (10.1, 25.8), (10.4, 57.5), (10.7, 49.3), (11, 33.9), (11.3, 63.8), (11.6, 37.6), (11.9, 51.3),
             (12.2, 70.8), (12.5, 27.8), (12.8, 57.1), (13.1, 40.5), (13.4, 67.9), (13.7, 49.3), (14, 30.9), (14.3, 55.4),
             (14.6, 42.5), (14.9, 35.6), (15.2, 45.4), (15.5, 27.8), (15.8, 47.4), (16.1, 20), (16.4, 66.9), (16.7, 16.1),
             (17, 29.5), (17.6, 43.9), (18.2, 38.6), (19.4, 30.9), (20, 60.7), (21.5, 46.6), (22.4, 51.7), (23, 50.9),
             (24.5, 42.5), (26.6, 54.4), (27.5, 27.8), (29, 30.9), (30.1, 56.8), (33.4, 33.7), (34.3, 42.1), (40, 20),
             (49.9, 100), (49.9, 50.3), (49.9, 24.9), (49.9, 17), (100, 0)]
member_ti_fit = (45.4, -0.209)

correlations = [['0.785', '-0.183', '-0.490', '0.064'],
                ['0.126', '-0.034', '-0.083', '0.433'],
                ['0.524', '-0.205', '-0.115', '-0.548'],
                ['0.188', '0.037', '0.264', '0.249'],
                ['0.297', '-0.008', '-0.115', '-0.548'],
                ['0.222', '0.248', '-0.187', '-0.109'],
                ['-0.277', '0.103', '-0.275', '-0.157']]

y_ac = 'AC (%, yes=1)'
y_ti = 'Thermal Insulation (%, yes=1)'
pct_ticks = [0, 20, 40, 60, 80, 100]
pct_labels = ['0', '20', '40', '60', '80', '100']
wide_ticks = [-50, 0, 50, 100]
wide_labels = ['-50', '0', '50', '100']

income_ac = [(v * 1000, a) for v, a in income_ac_k]
income_ti = [(v * 1000, a) for v, a in income_ti_k]

cdd_x = ([0, 500, 1000, 1500], ['0', '500', '1000', '1500'])
hdd_x = ([0, 2000, 4000, 6000, 8000], ['0', '2000', '4000', '6000', '8000'])
inc_x = ([20000, 40000, 60000, 80000, 100000, 120000], ['20000', '40000', '60000', '80000', '100000', '120000'])
wlt_x = ([-1, -0.5, 0, 0.5, 1], ['-1', '-.5', '0', '.5', '1'])
pct_x = (pct_ticks, pct_labels)
ten_x = ([0, 10, 20, 30, 40], ['0', '10', '20', '30', '40'])
siz_x = ([0, 100, 200, 300, 400], ['0', '100', '200', '300', '400'])
eb_x = ([5, 6, 7, 8, 9], ['5', '6', '7', '8', '9'])
ec_x = ([4, 5, 6, 7, 8, 9], ['4', '5', '6', '7', '8', '9'])
att_x = ([-0.5, 0, 0.5, 1, 1.5], ['-.5', '0', '.5', '1', '1.5'])

# per row: (points, fit, xticks, xlabel, ylabel, yticks)
panels = [
    [(cdd_ac, cdd_ac_fit, cdd_x, 'CDD (cooling degree day)', y_ac, ([0, 50, 100, 150], ['0', '50', '100', '150'])),
     (cdd_ti, cdd_ti_fit, cdd_x, 'CDD (cooling degree day)', y_ti, (pct_ticks, pct_labels)),
     (hdd_ac, hdd_ac_fit, hdd_x, 'HDD (heating degree day)', y_ac, (wide_ticks, wide_labels)),
     (hdd_ti, hdd_ti_fit, hdd_x, 'HDD (heating degree day)', y_ti, (pct_ticks, pct_labels))],
    [(income_ac, income_ac_fit, inc_x, 'Income (€)', y_ac, (pct_ticks, pct_labels)),
     (income_ti, income_ti_fit, inc_x, 'Income (€)', y_ti, (pct_ticks, pct_labels)),
     (wealth_ac, wealth_ac_fit, wlt_x, 'Wealth index', y_ac, (pct_ticks, pct_labels)),
     (wealth_ti, wealth_ti_fit, wlt_x, 'Wealth index', y_ti, (pct_ticks, pct_labels))],
    [(urban_ac, urban_ac_fit, pct_x, 'Urban-rural (%, urban=1)', y_ac, (pct_ticks, pct_labels)),
     (urban_ti, urban_ti_fit, pct_x, 'Urban-rural (%, urban=1)', y_ti, (pct_ticks, pct_labels)),
     (hometype_ac, hometype_ac_fit, pct_x, 'Home type (%, Multi-dwelling=1)', y_ac, (pct_ticks, pct_labels)),
     (hometype_ti, hometype_ti_fit, pct_x, 'Home type (%, Multi-dwelling=1)', y_ti, (pct_ticks, pct_labels))],
    [(tenure_ac, tenure_ac_fit, ten_x, 'Home tenure', y_ac, (pct_ticks, pct_labels)),
     (tenure_ti, tenure_ti_fit, ten_x, 'Home tenure', y_ti, (pct_ticks, pct_labels)),
     (owner_ac, owner_ac_fit, pct_x, 'Ownership (%, owner=1)', y_ac, (pct_ticks, pct_labels)),
     (owner_ti, owner_ti_fit, pct_x, 'Ownership (%, owner=1)', y_ti, (pct_ticks, pct_labels))],
    [(size_ac, size_ac_fit, siz_x, 'Home size (m2)', y_ac, (pct_ticks, pct_labels)),
     (size_ti, size_ti_fit, siz_x, 'Home size (m2)', y_ti, (pct_ticks, pct_labels)),
     (hometype_ac, hometype_ac_fit, pct_x, 'Home type (%, Multi-dwelling=1)', y_ac, (pct_ticks, pct_labels)),
     (hometype_ti, hometype_ti_fit, pct_x, 'Home type (%, Multi-dwelling=1)', y_ti, (pct_ticks, pct_labels))],
    [(energy_ac, energy_ac_fit, eb_x, 'Energy Behaviour Index', y_ac, (pct_ticks, pct_labels)),
     (energy_ti, energy_ti_fit, eb_x, 'Energy Behaviour Index', y_ti, (pct_ticks, pct_labels)),
     (concern_ac, concern_ac_fit, ec_x, 'Environmental Concern Index', y_ac, (pct_ticks, pct_labels)),
     (concern_ti, concern_ti_fit, ec_x, 'Environmental Concern Index', y_ti, (pct_ticks, pct_labels))],
    [(attitude_ac, attitude_ac_fit, att_x, 'Environmental Attitude Index', y_ac, (pct_ticks, pct_labels)),
     (attitude_ti, attitude_ti_fit, att_x, 'Environmental Attitude Index', y_ti, (pct_ticks, pct_labels)),
     (member_ac, member_ac_fit, pct_x, 'Membership in envt. org. (%, yes=1)', y_ac, (wide_ticks, wide_labels)),
     (member_ti, member_ti_fit, pct_x, 'Membership in envt. org. (%, yes=1)', y_ti, (pct_ticks, pct_labels))],
]

# ---------------- drawing ----------------
W, H = 1253, 1636
BG = '#EAF2F3'
GRID = '#DCE6E8'
NAVY = '#1A476F'
FITCOL = '#A8484F'
FS = 6.3

row_top0, row_step, row_h = 7, 233.4, 231.5
plot_left = [39, 344, 650, 956]
plot_w = [274, 275, 276, 280]
clip_right = [314, 620, 926, 1253]
squeezed_rows = {2, 3, 5, 6}

fig = plt.figure(figsize=(W / 100, H / 100), dpi=100, facecolor='white')

for r in range(7):
    top = row_top0 + r * row_step
    fig.patches.append(plt.Rectangle((7 / W, 1 - (top + row_h) / H), 1239 / W, row_h / H,
                                     transform=fig.transFigure, facecolor=BG, edgecolor='none', zorder=-10))

for r, row in enumerate(panels):
    top = row_top0 + r * row_step
    for c, (pts, fit, xt, xlab, ylab, yt) in enumerate(row):
        ax = fig.add_axes([plot_left[c] / W, 1 - (top + 200) / H, plot_w[c] / W, 180 / H])
        ax.set_zorder(1)
        x = np.array([p[0] for p in pts], dtype=float)
        y = np.array([p[1] for p in pts], dtype=float)

        if r in squeezed_rows:
            mk = MarkerStyle('o', transform=Affine2D().scale(0.62, 1.0))
            ms = 40
        else:
            mk = 'o'
            ms = 24
        ax.scatter(x, y, s=ms, marker=mk, color=NAVY, linewidths=0, zorder=3)

        fx = np.array([x.min(), x.max()])
        fy = fit[0] + fit[1] * fx
        ax.plot(fx, fy, color=FITCOL, lw=0.7, zorder=4)

        xlo, xhi = min(xt[0][0], x.min()), max(xt[0][-1], x.max())
        ylo = min(yt[0][0], y.min(), fy.min())
        yhi = max(yt[0][-1], y.max(), fy.max())
        px = 0.015 * (xhi - xlo)
        py = 0.0275 * (yhi - ylo)
        ax.set_xlim(xlo - px, xhi + px * 0.6)
        ax.set_ylim(ylo - py, yhi + py)

        ax.set_xticks(xt[0], xt[1])
        ax.set_yticks(yt[0], yt[1])
        ax.tick_params(axis='both', labelsize=FS, length=2.5, width=0.5, color='black', pad=2)
        ax.tick_params(axis='y', labelrotation=90, pad=0.5)
        for t in ax.get_yticklabels():
            t.set_verticalalignment('center')

        clip = TransformedBbox(Bbox.from_extents((plot_left[c] - 40) / W, 0, clip_right[c] / W, 1), fig.transFigure)
        for tk in ax.xaxis.get_major_ticks():
            tk.label1.set_clip_on(True)
            tk.label1.set_clip_box(clip)

        ax.set_axisbelow(True)
        ax.yaxis.grid(True, color=GRID, lw=0.8)
        ax.xaxis.grid(False)
        for s in ['top', 'right']:
            ax.spines[s].set_visible(False)
        for s in ['left', 'bottom']:
            ax.spines[s].set_linewidth(0.6)
            ax.spines[s].set_color('black')
        ax.set_facecolor('white')

        ax.set_title('Correlation ' + correlations[r][c], fontsize=FS, pad=2.5)
        ax.set_xlabel(xlab, fontsize=FS, labelpad=0)
        ax.set_ylabel(ylab, fontsize=FS, labelpad=1)

fig.savefig('out.png', dpi=100, facecolor='white')
